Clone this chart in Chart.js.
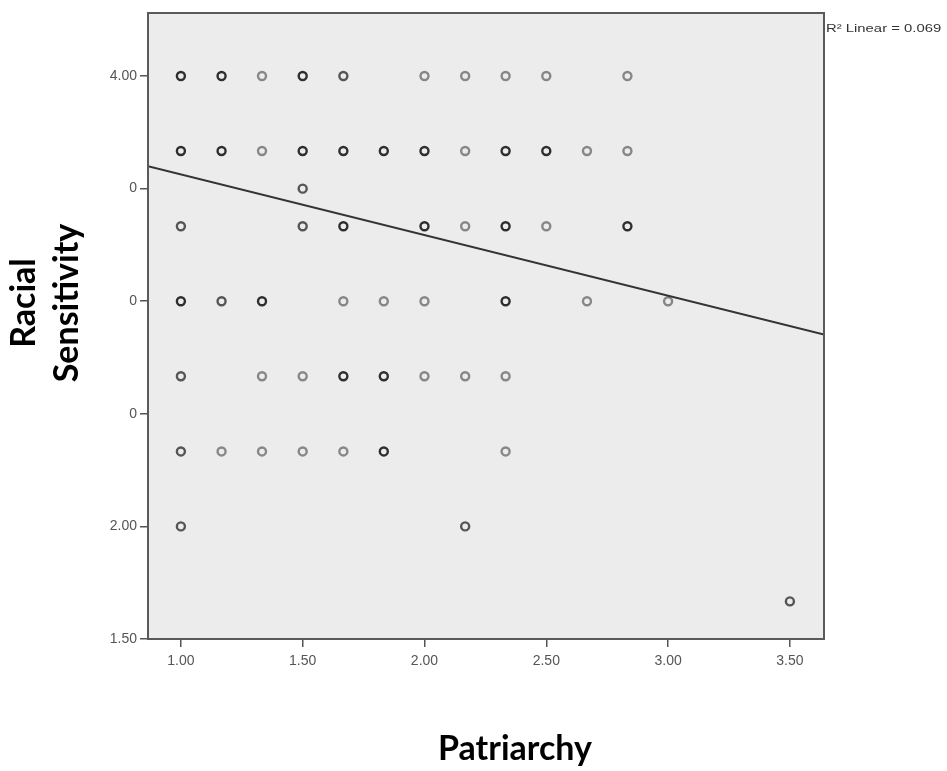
<!DOCTYPE html>
<html>
<head>
<meta charset="utf-8">
<script src="https://cdn.jsdelivr.net/npm/chart.js@4.4.1/dist/chart.umd.min.js"></script>
<style>
  html, body { margin: 0; padding: 0; background: #fff; }
</style>
</head>
<body>
<canvas id="canvas-1" width="947" height="771"></canvas>
<script>
'use strict';

// axis ticks
var xTicks = [1.0, 1.5, 2.0, 2.5, 3.0, 3.5];
var xTickLabels = ['1.00', '1.50', '2.00', '2.50', '3.00', '3.50'];
var yTicks = [1.5, 2.0, 2.5, 3.0, 3.5, 4.0];
var yTickLabels = ['1.50', '2.00', '0', '0', '0', '4.00'];

// cases, grouped by how heavy the marker looks (overlapping cases print darker)
var darkPoints = [
  [1.0, 4.0], [1.167, 4.0], [1.5, 4.0],
  [1.0, 3.667], [1.167, 3.667], [1.5, 3.667], [1.667, 3.667], [1.833, 3.667], [2.0, 3.667], [2.333, 3.667], [2.5, 3.667],
  [1.667, 3.333], [2.0, 3.333], [2.333, 3.333], [2.833, 3.333],
  [1.0, 3.0], [1.333, 3.0], [2.333, 3.0],
  [1.667, 2.667], [1.833, 2.667],
  [1.833, 2.333]
];
var midPoints = [
  [1.667, 4.0],
  [1.5, 3.5],
  [1.0, 3.333], [1.5, 3.333],
  [1.167, 3.0],
  [1.0, 2.667],
  [1.0, 2.333],
  [1.0, 2.0], [2.167, 2.0],
  [3.5, 1.667]
];
var lightPoints = [
  [1.333, 4.0], [2.0, 4.0], [2.167, 4.0], [2.333, 4.0], [2.5, 4.0], [2.833, 4.0],
  [1.333, 3.667], [2.167, 3.667], [2.667, 3.667], [2.833, 3.667],
  [2.167, 3.333], [2.5, 3.333],
  [1.667, 3.0], [1.833, 3.0], [2.0, 3.0], [2.667, 3.0], [3.0, 3.0],
  [1.333, 2.667], [1.5, 2.667], [2.0, 2.667], [2.167, 2.667], [2.333, 2.667],
  [1.167, 2.333], [1.333, 2.333], [1.5, 2.333], [1.667, 2.333], [2.333, 2.333]
];

// linear fit
var fitIntercept = 3.833;
var fitSlope = -0.2695;
var rSquared = '0.069';

var xMin = 0.865, xMax = 3.64;
var yMin = 1.5, yMax = 4.28;

function toXY(list) {
  return list.map(function (p) { return { x: p[0], y: p[1] }; });
}

function pointSet(list, color) {
  return {
    type: 'scatter',
    data: toXY(list),
    pointStyle: 'circle',
    pointRadius: 4,
    pointBorderWidth: 2.4,
    pointBorderColor: color,
    pointBackgroundColor: 'rgba(0,0,0,0)',
    showLine: false
  };
}

var fitData = [
  { x: xMin, y: fitIntercept + fitSlope * xMin },
  { x: xMax, y: fitIntercept + fitSlope * xMax }
];

var tickFont = { family: "'Liberation Sans', Arial, sans-serif", size: 14 };

var framePlugin = {
  id: 'frame',
  beforeDatasetsDraw: function (chart) {
    var a = chart.chartArea, ctx = chart.ctx;
    ctx.save();
    ctx.fillStyle = '#ececec';
    ctx.fillRect(a.left, a.top, a.right - a.left, a.bottom - a.top);
    ctx.restore();
  },
  afterDraw: function (chart) {
    var a = chart.chartArea, ctx = chart.ctx;
    ctx.save();
    ctx.strokeStyle = '#5a5a5a';
    ctx.lineWidth = 2;
    ctx.strokeRect(a.left, a.top, a.right - a.left, a.bottom - a.top);

    // axis titles
    ctx.fillStyle = '#000';
    ctx.font = "bold 34px Lato, 'Open Sans', sans-serif";
    ctx.textAlign = 'center';
    ctx.textBaseline = 'alphabetic';
    ctx.fillText('Patriarchy', 515, 760);

    ctx.save();
    ctx.translate(35, 303);
    ctx.rotate(-Math.PI / 2);
    ctx.fillText('Racial', 0, 0);
    ctx.restore();
    ctx.save();
    ctx.translate(78, 303);
    ctx.rotate(-Math.PI / 2);
    ctx.fillText('Sensitivity', 0, 0);
    ctx.restore();

    // fit note
    ctx.save();
    ctx.translate(a.right + 2, 32);
    ctx.scale(1.35, 1.05);
    ctx.fillStyle = '#333';
    ctx.font = "11px 'Liberation Sans', Arial, sans-serif";
    ctx.textAlign = 'left';
    ctx.fillText('R\u00b2 Linear = ' + rSquared, 0, 0);
    ctx.restore();
    ctx.restore();
  }
};

var ctx = document.getElementById('canvas-1');
var chart = new Chart(ctx, {
  type: 'scatter',
  data: {
    datasets: [
      {
        type: 'line',
        data: fitData,
        borderColor: '#333',
        borderWidth: 2,
        pointRadius: 0,
        fill: false
      },
      pointSet(lightPoints, '#878787'),
      pointSet(midPoints, '#555555'),
      pointSet(darkPoints, '#2e2e2e')
    ]
  },
  options: {
    responsive: false,
    animation: false,
    layout: { padding: { left: 8, top: 13, right: 123, bottom: 11 } },
    plugins: {
      legend: { display: false },
      tooltip: { enabled: false }
    },
    scales: {
      x: {
        type: 'linear',
        min: xMin,
        max: xMax,
        afterBuildTicks: function (s) { s.ticks = xTicks.map(function (v) { return { value: v }; }); },
        afterFit: function (s) { s.height = 121; },
        ticks: {
          autoSkip: false,
          maxRotation: 0,
          padding: 6,
          color: '#555',
          font: tickFont,
          callback: function (v) { return xTickLabels[xTicks.indexOf(v)]; }
        },
        grid: { drawOnChartArea: false, drawTicks: true, tickLength: 8, color: '#555', lineWidth: 1.5 },
        border: { display: true, color: '#5a5a5a', width: 2 }
      },
      y: {
        type: 'linear',
        min: yMin,
        max: yMax,
        afterBuildTicks: function (s) { s.ticks = yTicks.map(function (v) { return { value: v }; }); },
        afterFit: function (s) { s.width = 140; },
        ticks: {
          autoSkip: false,
          padding: 3,
          color: '#555',
          font: tickFont,
          callback: function (v) { return yTickLabels[yTicks.indexOf(v)]; }
        },
        grid: { drawOnChartArea: false, drawTicks: true, tickLength: 8, color: '#555', lineWidth: 1.5 },
        border: { display: true, color: '#5a5a5a', width: 2 }
      }
    }
  },
  plugins: [framePlugin]
});
</script>
</body>
</html>
